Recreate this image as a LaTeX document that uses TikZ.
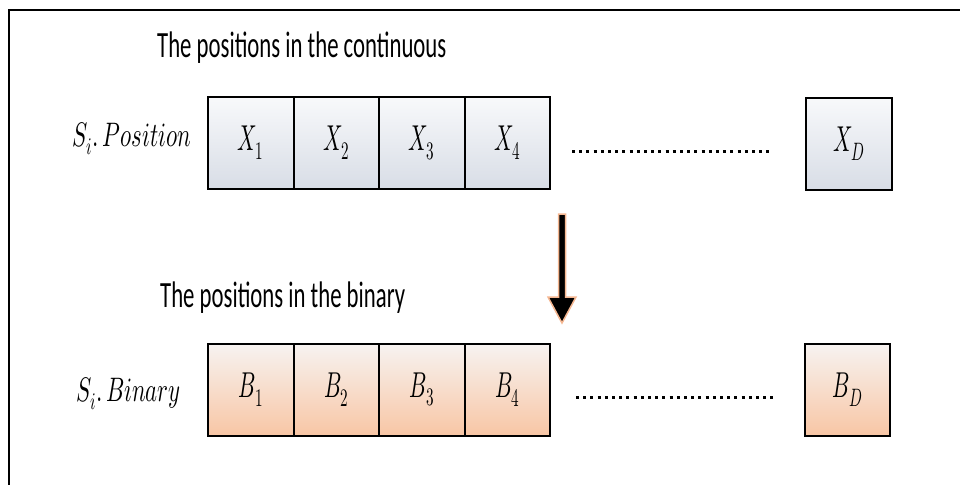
\documentclass[tikz,border=0pt]{standalone}
\usepackage{fontspec}
\usepackage{unicode-math}
\setmainfont{Carlito}
\setmathfont{Latin Modern Math}
\usepackage{graphicx}
\usetikzlibrary{positioning}
\definecolor{posTop}{HTML}{F8F9FB}
\definecolor{posBot}{HTML}{D8DDE6}
\definecolor{binTop}{HTML}{F7F3F1}
\definecolor{binBot}{HTML}{F8C6A5}
\definecolor{glow}{HTML}{F5B690}
\newcommand{\squash}[2][0.6]{\scalebox{#1}[1]{#2}}

\begin{document}
\begin{tikzpicture}[x=1pt,y=-1pt,
 cell/.style={draw=black,line width=2pt,outer sep=0pt,inner sep=0pt,
 minimum width=85.5pt,minimum height=92pt,font=\fontsize{36}{40}\selectfont},
 pcell/.style={cell,top color=posTop,bottom color=posBot},
 bcell/.style={cell,top color=binTop,bottom color=binBot},
 ttl/.style={anchor=base west,inner sep=0pt,font=\fontsize{37}{42}\selectfont},
 lbl/.style={anchor=base,inner sep=0pt,font=\fontsize{34}{38}\selectfont},
 dots/.style={line width=3pt,dash pattern=on 3pt off 4.2pt}]
\useasboundingbox (0,0) rectangle (960,485);
% frame
\draw[line width=2pt] (960,10) -- (9,10) -- (9,485);
% titles and row labels
\node[ttl] (conttl) at (157,57) {\squash[0.615]{The positions in the continuous}};
\node[ttl] (binttl) at (160,307) {\squash[0.615]{The positions in the binary}};
\node[lbl] (poslbl) at (132,146) {\squash[0.67]{$S_i.\,Position$}};
\node[lbl] (binlbl) at (128.5,401) {\squash[0.67]{$S_i.\,Binary$}};
% continuous row
\node[pcell] (x1) at (250.75,143) {\squash{$X_1$}};
\node[pcell,right=0pt of x1] (x2) {\squash{$X_2$}};
\node[pcell,right=0pt of x2] (x3) {\squash{$X_3$}};
\node[pcell,right=0pt of x3] (x4) {\squash{$X_4$}};
\node[pcell] (xD) at (849,143.5) {\squash{$X_D$}};
% binary row
\node[bcell] (b1) at (250.75,389.5) {\squash{$B_1$}};
\node[bcell,right=0pt of b1] (b2) {\squash{$B_2$}};
\node[bcell,right=0pt of b2] (b3) {\squash{$B_3$}};
\node[bcell,right=0pt of b3] (b4) {\squash{$B_4$}};
\node[bcell] (bD) at (847.5,389.5) {\squash{$B_D$}};
% dotted gaps
\coordinate (pgap0) at (572,151); \coordinate (pgap1) at (773,151);
\coordinate (bgap0) at (576,397); \coordinate (bgap1) at (777,397);
\draw[dots] (pgap0) -- (pgap1);
\draw[dots] (bgap0) -- (bgap1);
% conversion arrow
\coordinate (atop) at (562,214); \coordinate (atip) at (562,323);
\filldraw[fill=black,draw=glow,line width=1.5pt,line join=miter]
 (atop) ++(-3.5,0) -- ++(7,0) -- ++(0,83) -- ++(10.5,0) -- (atip)
 -- ++(-14,-26) -- ++(10.5,0) -- cycle;
\end{tikzpicture}
\end{document}
